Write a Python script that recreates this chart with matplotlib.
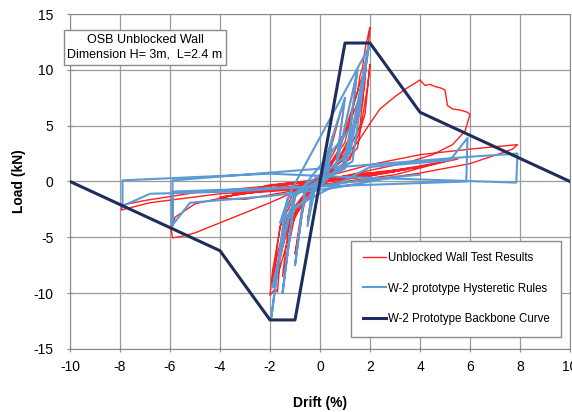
import matplotlib
matplotlib.use("Agg")
import matplotlib.pyplot as plt
import numpy as np

plt.rcParams['font.family'] = ['Liberation Sans', 'DejaVu Sans']
plt.rcParams['axes.unicode_minus'] = False
nan = np.nan

# Backbone curve (W-2 prototype)
bb_x = [-10, -4, -2, -1, 1, 2, 4, 10]
bb_y = [0, -6.2, -12.4, -12.4, 12.4, 12.4, 6.2, 0]

# Hysteretic rules (blue); nan separates path pieces
hy_x = [0, 0.5, 0.2, -0.3, -0.5, -0.2, 0.3, 0.5,
        1.0, 0.6, -0.6, -1.0, -0.6, 0.6,
        1.5, 1.0, -1.0, -1.5, -1.0, 1.0,
        1.95, 1.3, -1.3, -1.95, -1.4, 1.3, 0.9, -1.6, -1.2, 1.95, 1.2, -1.0, -1.9, -1.2,
        2.0, 5.2, 5.9, 5.85, -5.9, -5.9, -5.9, 5.9, 7.9, 7.85, 1.0, -2.0,
        -7.9, -7.9, -6.8, -3.5, 0.0, 2.0, 4.0, nan,
        -5.9, -5.2, -2.0, 0.5, 3.0]
hy_y = [0, 4.0, 0.6, -0.4, -4.0, -0.6, 0.4, 4.0,
        7.5, 0.8, -0.8, -7.5, -0.8, 0.8,
        10.0, 1.2, -1.2, -10.0, -1.2, 1.2,
        12.2, 1.8, -1.5, -12.2, -2.5, 5.0, 1.5, -3.7, -1.0, 12.0, 2.5, -1.0, -9.5, -2.5,
        1.3, 1.9, 3.9, 0.0, -0.9, -3.9, 0.1, 2.2, 2.5, -0.1, 0.4, 0.7,
        0.1, -2.2, -1.1, -0.9, -0.4, 0.2, 0.6, nan,
        -3.9, -1.9, -1.3, -0.6, 0.4]

# Test results (red)
ts_x = [0, 0.3, 0.5, 0.3, 0.0, -0.3, -0.5, -0.3, 0.0,
        0.5, 0.8, 1.0, 0.7, 0.2, -0.5, -0.8, -1.0, -0.7, 0.0,
        0.8, 1.2, 1.5, 1.2, 0.5, -0.5, -1.0, -1.5, -1.2, 0.0,
        1.0, 1.3, 1.5, 1.6, 1.7, 1.75, 1.8, 1.85, 1.9, 1.95, 2.0, 1.95, 1.85,
        1.6, 1.0, 0.0, -1.0, -1.5, -1.9, -2.0, -1.8, -1.7, -1.6, -1.2, -0.5,
        0.5, 1.5, 1.9, 2.0, 1.8, 1.2, 0.0, -1.0, -1.6, -1.9, -1.7, -1.3, -0.5,
        0.0, 1.0, 1.7, 1.9, 1.7, 1.0, 0.0, -1.0, -1.7, -1.85, -1.5, -0.8, 0.0,
        0.6, 1.4, 1.8, 1.3, 0.4, -0.6, -1.4, -1.75, -1.2, -0.4,
        -2.0, -3.5, -2.0, 0.0, 2.0, 3.5, 2.0, 0.0, -2.0, -3.0, -1.5, 0.0, 1.5, 3.0, 1.5, 0.0,
        -1.5, -4.0, -2.0, 0.0, 2.0, 4.0, 2.5, 0.0,
        0.5, 1.5, 2.0, 2.4, 3.0, 3.5, 3.8, 4.0, 4.2, 4.4, 4.6, 4.8, 5.0, 5.1,
        5.3, 5.6, 5.9, 6.0, 5.8, 5.3, 4.5, 3.5, 2.0, 0.0,
        -1.0, -2.0, -3.0, -4.0, -5.0, -5.5, -5.9, -5.95, -5.8, -5.0, -3.0, -1.0,
        1.0, 3.0, 4.0, 5.0, 3.0, 1.0, -1.0, -3.0, -4.0, -3.0, -1.0,
        0.0, 2.0, 4.0, 6.0, 7.9, 7.7, 7.2, 6.0, 4.0, 2.0, 0.0,
        -2.0, -4.0, -6.8, -7.95, -7.9, -7.0, -5.0, -2.0, 0.0, 2.0, 4.0, 5.5]
ts_y = [0, 2.5, 4.0, 1.0, 0.0, -1.0, -3.5, -0.9, 0.0,
        3.5, 6.0, 7.5, 2.5, 0.5, -0.5, -4.0, -6.5, -2.0, 0.2,
        3.0, 7.0, 10.0, 4.0, 1.0, -0.5, -3.0, -8.5, -3.0, 0.3,
        3.5, 6.5, 8.0, 9.5, 10.2, 11.0, 11.8, 12.4, 12.8, 13.4, 13.8, 12.6, 10.5,
        5.0, 2.0, 0.5, -0.8, -3.0, -8.0, -10.2, -9.6, -9.9, -7.0, -3.0, -1.0,
        0.5, 3.0, 8.5, 10.5, 6.0, 2.0, 0.2, -1.2, -4.0, -9.0, -6.5, -3.0, -0.8,
        0.3, 4.5, 9.5, 11.5, 7.0, 2.5, -0.2, -3.0, -8.5, -9.3, -5.5, -1.8, 0.0,
        2.0, 6.5, 8.8, 4.0, 0.6, -1.5, -5.0, -7.8, -3.5, -0.6,
        -0.9, -1.1, -0.3, 0.1, 0.6, 1.1, 0.5, -0.1, -0.7, -0.8, -0.2, 0.2, 0.6, 0.9, 0.7, 0.0,
        -0.6, -1.4, -0.8, -0.1, 0.5, 1.3, 0.9, 0.2,
        1.0, 3.5, 5.2, 6.5, 7.6, 8.4, 8.8, 9.1, 8.6, 8.7, 8.5, 8.4, 8.2, 6.8,
        6.5, 6.4, 6.2, 6.0, 4.5, 3.3, 2.4, 1.7, 1.0, 0.0,
        -0.9, -1.9, -2.8, -3.7, -4.6, -4.9, -5.05, -4.3, -3.2, -2.0, -1.0, -0.2,
        0.4, 1.0, 1.4, 1.8, 0.6, 0.0, -0.6, -1.0, -1.5, -1.6, -0.8,
        0.3, 1.5, 2.4, 2.9, 3.3, 2.9, 2.5, 1.6, 0.75, 0.1, -0.3,
        -0.8, -1.1, -1.9, -2.55, -2.1, -1.7, -1.0, -0.4, 0.0, 0.7, 1.3, 2.0]

fig = plt.figure(figsize=(5.72, 4.12), dpi=100)
ax = fig.add_axes([0.1224, 0.153, 0.8741, 0.813])

red = '#ff2020'
blue = '#5b9bd5'
navy = '#1f2d5c'

ax.plot(ts_x, ts_y, color=red, lw=1.0, label='Unblocked Wall Test Results', zorder=3)
ax.plot(hy_x, hy_y, color=blue, lw=1.5, label='W-2 prototype Hysteretic Rules', zorder=4)
ax.plot(bb_x, bb_y, color=navy, lw=2.2, label='W-2 Prototype Backbone Curve', zorder=5)

ax.set_xlim(-10, 10)
ax.set_ylim(-15, 15)
ax.set_xticks(range(-10, 11, 2))
ax.set_yticks(range(-15, 16, 5))
ax.grid(True, color='#9a9a9a', lw=0.9)
ax.set_axisbelow(True)
for s in ax.spines.values():
    s.set_color('#8a8a8a')
ax.tick_params(axis='both', labelsize=10, color='#8a8a8a', length=4, direction='inout')
ax.tick_params(axis='y', pad=10)
ax.tick_params(axis='x', pad=6)

ax.set_xlabel('Drift (%)', fontsize=10, fontweight='bold', labelpad=16)
ax.set_ylabel('Load (kN)', fontsize=10, fontweight='bold', labelpad=5)

ax.text(-7.0, 12.0, 'OSB Unblocked Wall\nDimension H= 3m,  L=2.4 m', ha='center', va='center',
        fontsize=9, linespacing=1.3,
        bbox=dict(boxstyle='square,pad=0.3', fc='white', ec='#8a8a8a', lw=1.0), zorder=6)

leg = ax.legend(loc='lower right', fontsize=8.3, frameon=True, fancybox=False,
                edgecolor='#8a8a8a', framealpha=1, handlelength=2.0, labelspacing=1.6,
                borderpad=1.0, handletextpad=0.2, bbox_to_anchor=(0.994, 0.02))
leg.get_frame().set_linewidth(1.0)

fig.savefig('out.png', dpi=100)
